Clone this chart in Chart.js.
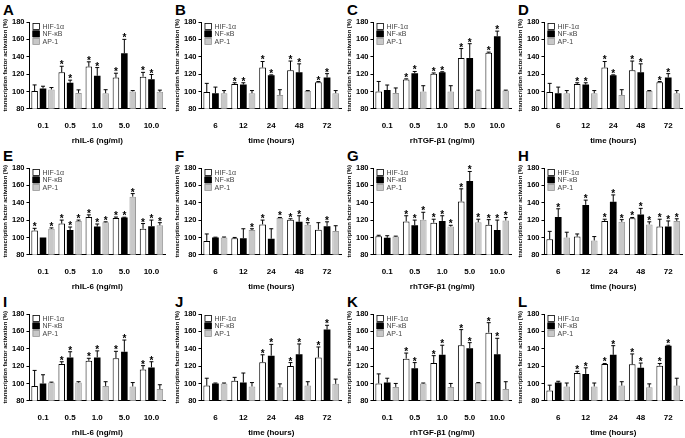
<html>
<head>
<meta charset="UTF-8">
<script src="https://cdn.jsdelivr.net/npm/chart.js@4.4.0/dist/chart.umd.min.js"></script>
<style>
  body { margin: 0; background: #fff; width: 685px; height: 438px; overflow: hidden; position: relative; }
  .panel { position: absolute; }
  .letter { position: absolute; font: bold 15px "Liberation Sans", Arial, sans-serif; color: #000; }
</style>
</head>
<body>
<script>
// categories
var doseLabels = ['0.1', '0.5', '1.0', '5.0', '10.0'];
var timeLabels = ['6', '12', '24', '48', '72'];
var seriesNames = ['HIF-1\u03b1', 'NF-\u03baB', 'AP-1'];

// A
var A_hif = [100.5, 122, 128.6, 116, 117],      A_hifErr = [7, 7, 5.5, 5, 5],        A_hifSig = [0, 1, 1, 1, 1];
var A_nf  = [103.4, 110, 118, 144, 114],        A_nfErr  = [2.6, 3, 9.5, 16, 5.5],   A_nfSig  = [0, 1, 1, 1, 1];
var A_ap  = [102.3, 98.3, 98, 100, 99.5],       A_apErr  = [2.2, 3.5, 4, 1, 2],      A_apSig  = [0, 0, 0, 0, 0];
// B
var B_hif = [99.3, 108.6, 127.5, 124.3, 110.7], B_hifErr = [10, 1.4, 7, 10.7, 0.7],  B_hifSig = [0, 1, 1, 1, 1];
var B_nf  = [98, 108, 118.6, 122, 116],         B_nfErr  = [7, 2, 0.5, 9.8, 4.5],    B_nfSig  = [0, 1, 1, 1, 1];
var B_ap  = [98, 98, 96, 100.4, 98],            B_apErr  = [3, 3, 6, 0.6, 3],        B_apSig  = [0, 0, 0, 0, 0];
// C
var C_hif = [100, 113.8, 120.3, 138.6, 144.5],  C_hifErr = [11.5, 0.7, 1, 10.8, 0.8], C_hifSig = [0, 1, 1, 1, 1];
var C_nf  = [101.6, 121, 122, 138.6, 163.5],    C_nfErr  = [5.8, 2, 0.7, 16.4, 6],   C_nfSig  = [0, 1, 1, 1, 1];
var C_ap  = [98.3, 100, 100, 101, 101],         C_apErr  = [5.7, 6.6, 6.6, 0.5, 0.5], C_apSig = [0, 0, 0, 0, 0];
// D
var D_hif = [99.3, 108.6, 127.5, 124.3, 110.7], D_hifErr = [10, 1.4, 7, 10.7, 0.7],  D_hifSig = [0, 1, 1, 1, 1];
var D_nf  = [98, 108, 118.6, 122, 116],         D_nfErr  = [7, 2, 0.5, 9.8, 4.5],    D_nfSig  = [0, 1, 1, 1, 1];
var D_ap  = [98, 98, 96, 100.4, 98],            D_apErr  = [3, 3, 6, 0.6, 3],        D_apSig  = [0, 0, 0, 0, 0];
// E
var E_hif = [108, 116, 123.5, 122.5, 110],      E_hifErr = [2.5, 4, 2.5, 1, 6],      E_hifSig = [1, 1, 1, 1, 1];
var E_nf  = [100, 108.5, 112.5, 123, 113],      E_nfErr  = [0, 3.5, 3, 0.3, 7],      E_nfSig  = [0, 1, 1, 1, 1];
var E_ap  = [110, 119, 117.5, 147, 114],        E_apErr  = [1, 1, 0.5, 3.5, 3],      E_apSig  = [1, 1, 1, 1, 1];
// F
var F_hif = [96, 99, 115, 120.5, 109],          F_hifErr = [8, 1, 5, 1, 8],          F_hifSig = [0, 0, 1, 1, 0];
var F_nf  = [100, 99, 98.5, 118, 113],          F_nfErr  = [0.3, 11, 11.5, 7, 5],    F_nfSig  = [0, 0, 0, 1, 1];
var F_ap  = [100, 108.5, 122.5, 114.5, 107.5],  F_apErr  = [0.5, 1.5, 0.5, 2.5, 6],  F_apSig  = [0, 1, 1, 1, 0];
// G
var G_hif = [101.5, 118.5, 117, 141.5, 114.5],  G_hifErr = [1, 6.5, 4, 14.5, 6],     G_hifSig = [0, 1, 1, 1, 1];
var G_nf  = [99.5, 114, 119, 165, 108.5],       G_nfErr  = [2.5, 6, 6, 11, 11.5],    G_nfSig  = [0, 1, 1, 1, 1];
var G_ap  = [101, 120.5, 112.5, 117.5, 119.5],  G_apErr  = [0.5, 8.5, 1.5, 3.5, 3.5], G_apSig = [0, 1, 1, 1, 1];
// H
var H_hif = [98, 101, 119, 122, 112.5],         H_hifErr = [9, 3, 2, 1, 8.5],        H_hifSig = [0, 0, 1, 1, 1];
var H_nf  = [123.5, 137.5, 141, 126.5, 112.5],  H_nfErr  = [9.5, 5.5, 8, 7, 6.5],    H_nfSig  = [1, 1, 1, 1, 1];
var H_ap  = [100, 96.5, 118, 115, 119],         H_apErr  = [6, 4.5, 2.5, 3, 2.5],    H_apSig  = [0, 0, 1, 1, 1];
// I
var I_hif = [97, 122.5, 126, 129, 116],         I_hifErr = [18, 2.5, 3, 8, 4.5],     I_hifSig = [0, 1, 1, 1, 1];
var I_nf  = [100, 130, 130, 136.5, 118.5],      I_nfErr  = [10, 6.5, 7.5, 13.5, 6.5], I_nfSig = [0, 1, 1, 1, 1];
var I_ap  = [101, 101, 97, 96.5, 93.5],         I_apErr  = [0.5, 1, 5, 4.5, 5],      I_apSig  = [0, 0, 0, 0, 0];
// J
var J_hif = [97.5, 103, 124.5, 120, 130],       J_hifErr = [8.5, 4, 8.5, 4, 12],     J_hifSig = [0, 0, 1, 1, 1];
var J_nf  = [100, 101, 132, 133.5, 162],        J_nfErr  = [0.5, 11, 13, 12, 5],     J_nfSig  = [0, 0, 1, 1, 1];
var J_ap  = [100, 96.5, 95.5, 97.5, 99.5],      J_apErr  = [0.5, 4.5, 4, 4.5, 5.5],  J_apSig  = [0, 0, 0, 0, 0];
// K
var K_hif = [100, 128.5, 123.5, 144, 158.5],    K_hifErr = [11, 6.5, 8.5, 18, 11.5], K_hifSig = [0, 1, 1, 1, 1];
var K_nf  = [101, 117.5, 133, 140.5, 133.5],    K_nfErr  = [5, 6.5, 11, 6.5, 18.5],  K_nfSig  = [0, 1, 1, 1, 1];
var K_ap  = [96, 100, 96, 100.5, 93.5],         K_apErr  = [4, 0.5, 4, 0.5, 8.5],    K_apSig  = [0, 0, 0, 0, 0];
// L
var L_hif = [92, 112, 122.5, 122, 120.5],       L_hifErr = [6, 2, 0.5, 12, 2.5],     L_hifSig = [0, 1, 1, 1, 1];
var L_nf  = [101, 111, 133, 118, 143.5],        L_nfErr  = [1.5, 7, 10.5, 5.5, 0.5], L_nfSig  = [0, 1, 1, 1, 1];
var L_ap  = [96.5, 96.5, 97.5, 95.5, 97.5],     L_apErr  = [4, 4, 4.5, 4, 8.5],      L_apSig  = [0, 0, 0, 0, 0];

var yMin = 80, yMax = 180, yStep = 20;
var yTitle = 'transcription factor activation (%)';
var xTitleIL6 = 'rhIL-6 (ng/ml)';
var xTitleTGF = 'rhTGF-\u03b21 (ng/ml)';
var xTitleTime = 'time (hours)';

var FONT = '"Liberation Sans", Arial, sans-serif';
var fills = ['#ffffff', '#000000', '#c8c8c8'];
var borders = ['#000000', '#000000', '#9a9a9a'];

// error bars, asterisks and the inset legend
var extrasPlugin = {
  id: 'extras',
  afterDatasetsDraw: function(chart) {
    var ctx = chart.ctx;
    var ys = chart.scales.y;
    ctx.save();
    chart.data.datasets.forEach(function(ds, i) {
      var meta = chart.getDatasetMeta(i);
      meta.data.forEach(function(bar, j) {
        var top = ys.getPixelForValue(ds.data[j] + ds.errs[j]);
        if (ds.errs[j] > 0) {
          ctx.strokeStyle = '#000';
          ctx.lineWidth = 1;
          ctx.beginPath();
          ctx.moveTo(bar.x, bar.y);
          ctx.lineTo(bar.x, top);
          ctx.moveTo(bar.x - 2, top);
          ctx.lineTo(bar.x + 2, top);
          ctx.stroke();
        }
        if (ds.sig[j]) {
          ctx.fillStyle = '#000';
          ctx.font = 'bold 10px ' + FONT;
          ctx.textAlign = 'center';
          ctx.textBaseline = 'alphabetic';
          ctx.fillText('*', bar.x, top + 2);
        }
      });
    });
    // legend
    var lx = chart.chartArea.left + 3, ly = chart.chartArea.top + 1;
    ctx.font = '7px ' + FONT;
    ctx.textAlign = 'left';
    ctx.textBaseline = 'middle';
    chart.data.datasets.forEach(function(ds, i) {
      var y = ly + i * 7.5;
      ctx.fillStyle = fills[i];
      ctx.fillRect(lx, y, 7, 6.5);
      ctx.strokeStyle = borders[i];
      ctx.lineWidth = 0.8;
      ctx.strokeRect(lx + 0.5, y + 0.5, 6.5, 6);
      ctx.fillStyle = '#444';
      ctx.fillText(ds.label, lx + 10, y + 3.7);
    });
    ctx.restore();
  }
};

function makePanel(letter, col, row, labels, xTitle, series) {
  var lefts = [0, 172, 344, 515];
  var widths = [168, 172, 170, 170];
  var tops = [0, 146, 292];

  var lab = document.createElement('div');
  lab.className = 'letter';
  lab.style.left = (lefts[col] + 3) + 'px';
  lab.style.top = (tops[row] + 1) + 'px';
  lab.textContent = letter;
  document.body.appendChild(lab);

  var div = document.createElement('div');
  div.className = 'panel';
  div.style.left = lefts[col] + 'px';
  div.style.top = (tops[row] + 14) + 'px';
  var cv = document.createElement('canvas');
  cv.width = widths[col]; cv.height = 132;
  div.appendChild(cv);
  document.body.appendChild(div);

  var datasets = series.map(function(s, i) {
    return {
      label: seriesNames[i],
      data: s[0], errs: s[1], sig: s[2],
      backgroundColor: fills[i],
      borderColor: borders[i],
      borderWidth: i == 1 ? 0 : 1,
      barPercentage: 0.78,
      categoryPercentage: 0.93
    };
  });

  new Chart(cv.getContext('2d'), {
    type: 'bar',
    data: { labels: labels, datasets: datasets },
    options: {
      responsive: false,
      animation: false,
      devicePixelRatio: 1,
      layout: { padding: { top: 8, right: 3, left: 1, bottom: 0 } },
      plugins: { legend: { display: false }, tooltip: { enabled: false } },
      scales: {
        x: {
          grid: { display: false },
          border: { color: '#000', width: 1 },
          ticks: { color: '#000', font: { family: FONT, size: 8, weight: 'bold' }, padding: 4 },
          title: { display: true, text: xTitle, color: '#000', font: { family: FONT, size: 8, weight: 'bold' }, padding: { top: 2, bottom: 0 } }
        },
        y: {
          min: yMin, max: yMax,
          grid: { display: true, drawOnChartArea: false, drawTicks: true, tickLength: 3, color: '#000' },
          border: { color: '#000', width: 1 },
          ticks: { stepSize: yStep, color: '#000', font: { family: FONT, size: 7.5, weight: 'bold' }, padding: 2 },
          title: { display: true, text: yTitle, color: '#000', font: { family: FONT, size: 5.8, weight: 'bold' }, padding: 1 }
        }
      }
    },
    plugins: [extrasPlugin]
  });
}

makePanel('A', 0, 0, doseLabels, xTitleIL6, [[A_hif, A_hifErr, A_hifSig], [A_nf, A_nfErr, A_nfSig], [A_ap, A_apErr, A_apSig]]);
makePanel('B', 1, 0, timeLabels, xTitleTime, [[B_hif, B_hifErr, B_hifSig], [B_nf, B_nfErr, B_nfSig], [B_ap, B_apErr, B_apSig]]);
makePanel('C', 2, 0, doseLabels, xTitleTGF, [[C_hif, C_hifErr, C_hifSig], [C_nf, C_nfErr, C_nfSig], [C_ap, C_apErr, C_apSig]]);
makePanel('D', 3, 0, timeLabels, xTitleTime, [[D_hif, D_hifErr, D_hifSig], [D_nf, D_nfErr, D_nfSig], [D_ap, D_apErr, D_apSig]]);
makePanel('E', 0, 1, doseLabels, xTitleIL6, [[E_hif, E_hifErr, E_hifSig], [E_nf, E_nfErr, E_nfSig], [E_ap, E_apErr, E_apSig]]);
makePanel('F', 1, 1, timeLabels, xTitleTime, [[F_hif, F_hifErr, F_hifSig], [F_nf, F_nfErr, F_nfSig], [F_ap, F_apErr, F_apSig]]);
makePanel('G', 2, 1, doseLabels, xTitleTGF, [[G_hif, G_hifErr, G_hifSig], [G_nf, G_nfErr, G_nfSig], [G_ap, G_apErr, G_apSig]]);
makePanel('H', 3, 1, timeLabels, xTitleTime, [[H_hif, H_hifErr, H_hifSig], [H_nf, H_nfErr, H_nfSig], [H_ap, H_apErr, H_apSig]]);
makePanel('I', 0, 2, doseLabels, xTitleIL6, [[I_hif, I_hifErr, I_hifSig], [I_nf, I_nfErr, I_nfSig], [I_ap, I_apErr, I_apSig]]);
makePanel('J', 1, 2, timeLabels, xTitleTime, [[J_hif, J_hifErr, J_hifSig], [J_nf, J_nfErr, J_nfSig], [J_ap, J_apErr, J_apSig]]);
makePanel('K', 2, 2, doseLabels, xTitleTGF, [[K_hif, K_hifErr, K_hifSig], [K_nf, K_nfErr, K_nfSig], [K_ap, K_apErr, K_apSig]]);
makePanel('L', 3, 2, timeLabels, xTitleTime, [[L_hif, L_hifErr, L_hifSig], [L_nf, L_nfErr, L_nfSig], [L_ap, L_apErr, L_apSig]]);
</script>
</body>
</html>
